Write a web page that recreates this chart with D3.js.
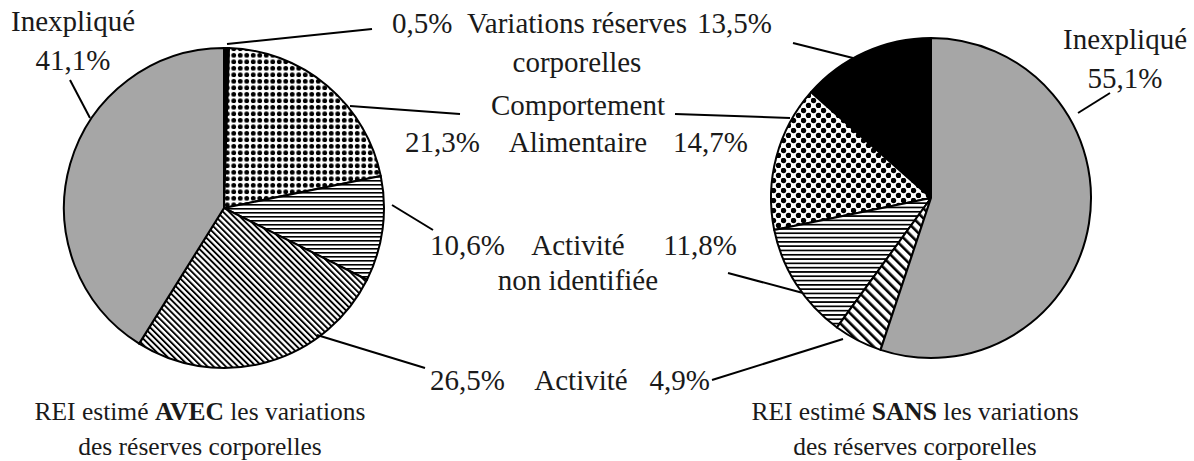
<!DOCTYPE html>
<html>
<head>
<meta charset="utf-8">
<script src="https://cdn.jsdelivr.net/npm/d3@7/dist/d3.min.js"></script>
</head>
<body style="margin:0">
<svg id="chart" width="1194" height="461"></svg>
<script>
// Energy expenditure components (REI), in %
const categories = ["Variations réserves corporelles", "Comportement Alimentaire", "Activité non identifiée", "Activité", "Inexpliqué"];
const avecValues = [0.5, 21.3, 10.6, 26.5, 41.1];
const sansValues = [13.5, 14.7, 11.8, 4.9, 55.1];
const captions = [
  ["REI estimé ", "AVEC", " les variations", "des réserves corporelles"],
  ["REI estimé ", "SANS", " les variations", "des réserves corporelles"]
];

const svg = d3.select("#chart");
const defs = svg.append("defs");
const fmt = v => d3.format(".1f")(v).replace(".", ",") + "%";

// ---- fill patterns ----
function dotPattern(id, w, h, dots, r) {
  const p = defs.append("pattern").attr("id", id).attr("patternUnits", "userSpaceOnUse")
    .attr("width", w).attr("height", h);
  p.append("rect").attr("width", w).attr("height", h).attr("fill", "#fff");
  dots.forEach(([x, y]) => p.append("circle").attr("cx", x).attr("cy", y).attr("r", r).attr("fill", "#000"));
}
function hLines(id, gap, sw) {
  const p = defs.append("pattern").attr("id", id).attr("patternUnits", "userSpaceOnUse")
    .attr("width", 10).attr("height", gap);
  p.append("rect").attr("width", 10).attr("height", gap).attr("fill", "#fff");
  p.append("rect").attr("y", 0).attr("width", 10).attr("height", sw).attr("fill", "#000");
}
// stripes running from upper-left to lower-right
function diagLines(id, gap, sw) {
  const p = defs.append("pattern").attr("id", id).attr("patternUnits", "userSpaceOnUse")
    .attr("width", gap).attr("height", gap).attr("patternTransform", "rotate(-45)");
  p.append("rect").attr("width", gap).attr("height", gap).attr("fill", "#fff");
  p.append("rect").attr("x", 0).attr("width", sw).attr("height", gap).attr("fill", "#000");
}
dotPattern("dotsA", 6.5, 6.5, [[3.25, 3.25]], 2.4);
dotPattern("dotsB", 10, 10, [[2.5, 2.5], [7.5, 7.5]], 2.7);
hLines("hA", 4, 1.6);
hLines("hB", 4.3, 1.7);
diagLines("dA", 4.3, 1.9);
diagLines("dB", 7, 2.6);

const fillsA = ["#000", "url(#dotsA)", "url(#hA)", "url(#dA)", "#a6a6a6"];
const fillsB = ["#000", "url(#dotsB)", "url(#hB)", "url(#dB)", "#a6a6a6"];

const arc = d3.arc().innerRadius(0).outerRadius(160);

// Left pie: clockwise from 12 o'clock
const pieA = d3.pie().sort(null).startAngle(0).endAngle(2 * Math.PI);
// Right pie: same order, counter-clockwise from 12 o'clock
const pieB = d3.pie().sort(null).startAngle(0).endAngle(-2 * Math.PI);

function drawPie(cx, cy, values, pie, fills) {
  const g = svg.append("g").attr("transform", `translate(${cx},${cy})`);
  g.selectAll("path").data(pie(values)).join("path")
    .attr("d", arc)
    .attr("fill", (d, i) => fills[i])
    .attr("stroke", "#000")
    .attr("stroke-width", 2)
    .attr("stroke-linejoin", "round");
}
drawPie(224, 208, avecValues, pieA, fillsA);
drawPie(931, 198, sansValues, pieB, fillsB);

// ---- leader lines ----
const leaders = [
  [70, 80, 90, 118],
  [227, 44, 372, 29],
  [350, 106, 460, 114],
  [392, 205, 433, 230],
  [317, 335, 425, 368],
  [793, 43, 853, 58],
  [675, 114, 790, 118],
  [728, 273, 803, 293],
  [712, 380, 843, 339],
  [1110, 93, 1078, 113]
];
svg.append("g").selectAll("line").data(leaders).join("line")
  .attr("x1", d => d[0]).attr("y1", d => d[1]).attr("x2", d => d[2]).attr("y2", d => d[3])
  .attr("stroke", "#000").attr("stroke-width", 2);

// ---- labels ----
function label(x, y, txt, anchor = "middle", size = 29) {
  const t = svg.append("text").attr("x", x).attr("y", y).attr("font-size", size)
    .style("font-family", "'Liberation Serif'");
  t.style("text-anchor", anchor).style("fill", "#1a1a1a");
  t.text(txt);
}
// left pie
label(73, 31, categories[4]);
label(73, 70, fmt(avecValues[4]));
label(392, 33, fmt(avecValues[0]), "start");
label(405, 152, fmt(avecValues[1]), "start");
label(430, 255, fmt(avecValues[2]), "start");
label(430, 390, fmt(avecValues[3]), "start");
// shared category names
label(577, 33, "Variations réserves");
label(577, 72, "corporelles");
label(578, 115, "Comportement");
label(578, 152, "Alimentaire");
label(578, 255, categories[3]);
label(578, 290, "non identifiée");
label(581, 390, categories[3]);
// right pie
label(772, 33, fmt(sansValues[0]), "end");
label(748, 152, fmt(sansValues[1]), "end");
label(737, 255, fmt(sansValues[2]), "end");
label(710, 390, fmt(sansValues[3]), "end");
label(1125, 49, categories[4]);
label(1125, 88, fmt(sansValues[4]));

// ---- captions ----
[[200, captions[0]], [915, captions[1]]].forEach(([x, c]) => {
  const t = svg.append("text").attr("x", x).attr("y", 420).attr("font-size", 25.5)
    .style("font-family", "'Liberation Serif'").style("text-anchor", "middle").style("fill", "#1a1a1a");
  t.append("tspan").text(c[0]);
  t.append("tspan").style("font-weight", "bold").text(c[1]);
  t.append("tspan").text(c[2]);
  label(x, 455, c[3], "middle", 25.5);
});
</script>
</body>
</html>
